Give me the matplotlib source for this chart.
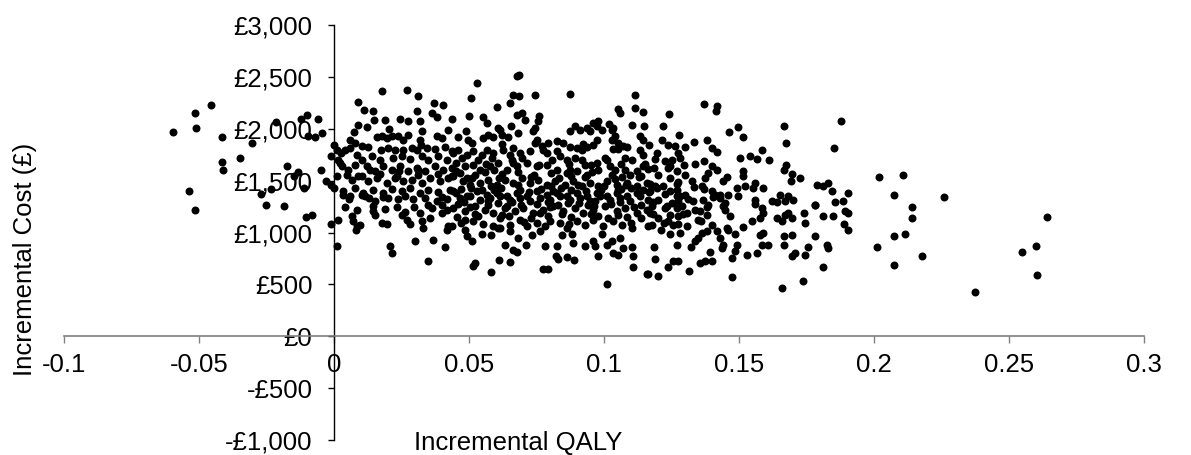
import matplotlib
matplotlib.use("Agg")
import matplotlib.pyplot as plt

plt.rcParams['font.family'] = ['Liberation Sans', 'DejaVu Sans']
plt.rcParams['axes.unicode_minus'] = False

# ---- data: (incremental QALY, incremental cost £) ----
pts_negative = [(-0.0597,1965),(-0.0515,2152),(-0.0511,2011),(-0.0456,2225),(-0.0416,1917),(-0.0305,1866),
    (-0.0347,1715),(-0.0416,1683),(-0.0411,1606),(-0.0537,1401),(-0.0516,1214),(-0.0270,1368),(-0.0233,1423),
    (-0.0253,1269),(-0.0184,1252),(-0.0173,1638),(-0.0134,1587),(-0.0148,1541),(-0.0110,1433),(-0.0105,1150),
    (-0.0083,1172),(-0.0214,2068),(-0.0123,2094),(-0.0101,2129),(-0.0058,2097),(-0.0095,1931),(-0.0070,1917),
    (-0.0046,1956),(-0.0048,1599),(-0.0031,1493),(-0.0011,1461),(-0.0011,1734),(-0.0011,1086),
    (0.0001,1847),(0.0010,1799),(0.0022,1670),(0.0010,1541),(0.0001,1430)]

pts_tail = [(0.1878,2078),(0.2017,1532),(0.2109,1558),(0.1905,1381),(0.2075,1365),(0.2259,1343),(0.1886,1302),
    (0.1893,1211),(0.1905,1189),(0.2140,1247),(0.2140,1141),(0.1889,1083),(0.1903,1025),(0.2115,989),(0.2074,970),
    (0.2010,864),(0.2177,775),(0.2074,688),(0.2373,428),(0.2548,809),(0.2600,871),(0.2604,588),(0.2642,1153)]

pts_low_qaly = [(0.0179,2360),(0.0269,2370),(0.0310,2312),(0.0090,2254),(0.0370,2249),(0.0405,2225),(0.0111,2184),
    (0.0143,2174),(0.0306,2168),(0.0362,2152),(0.0380,2114),(0.0148,2088),(0.0189,2088),(0.0244,2094),(0.0275,2078),
    (0.0319,2071),(0.0090,2040),(0.0121,2013),(0.0205,2001),(0.0421,1991),(0.0074,1965),(0.0325,1975),(0.0380,1927),
    (0.0399,1911),(0.0158,1917),(0.0177,1927),(0.0195,1911),(0.0214,1927),(0.0238,1933),(0.0257,1895),(0.0275,1943),
    (0.0319,1895),(0.0322,1847),(0.0059,1895),(0.0078,1863),(0.0041,1799),(0.0059,1815),(0.0103,1831),(0.0127,1825),
    (0.0174,1799),(0.0201,1815),(0.0226,1792),(0.0257,1799),(0.0288,1815),(0.0306,1799),(0.0343,1815),(0.0374,1805),
    (0.0411,1825),(0.0436,1783),(0.0026,1767),(0.0016,1702),(0.0084,1751),(0.0103,1702),(0.0140,1734),(0.0170,1702),
    (0.0220,1719),(0.0251,1734),(0.0281,1709),(0.0325,1734),(0.0349,1702),(0.0386,1734),(0.0417,1702),(0.0028,1638),
    (0.0053,1606),(0.0078,1654),(0.0121,1638),(0.0152,1590),(0.0183,1638),(0.0214,1606),(0.0244,1638),(0.0275,1590),
    (0.0306,1622),(0.0337,1590),(0.0374,1638),(0.0405,1606),(0.0436,1622),(0.0066,1510),(0.0090,1541),(0.0127,1493),
    (0.0158,1526),(0.0195,1478),(0.0226,1526),(0.0257,1493),(0.0288,1510),(0.0325,1478),(0.0356,1526),(0.0393,1493),
    (0.0423,1526),(0.0034,1397),(0.0078,1430),(0.0109,1381),(0.0146,1413),(0.0183,1381),(0.0214,1420),(0.0251,1397),
    (0.0281,1430),(0.0319,1381),(0.0349,1413),(0.0386,1387),(0.0430,1413),
    (0.0048,1558),(0.0104,1548),(0.0170,1567),(0.0233,1548),(0.0311,1558),(0.0385,1567),(0.0437,1548),
    (0.0056,1327),(0.0130,1336),(0.0237,1327),(0.0337,1336),(0.0419,1327),
    (0.0041,1250),(0.0085,1221),(0.0189,1230),(0.0263,1201),(0.0400,1192),
    (0.0016,1124),(0.0010,874),(0.0066,1156),(0.0071,1115),(0.0084,1060),(0.0096,1069),(0.0081,1028),(0.0146,1204),
    (0.0152,1172),(0.0177,1092),(0.0195,1083),(0.0207,867),(0.0214,803),(0.0232,1243),(0.0201,1333),(0.0251,1166),
    (0.0269,1124),(0.0281,1083),(0.0300,915),(0.0294,1327),(0.0297,1243),(0.0319,1189),(0.0325,1108),(0.0331,1044),
    (0.0347,729),(0.0368,932),(0.0411,861),(0.0417,1028),(0.0423,1060),(0.0356,1141),(0.0362,1237),(0.0380,1301),
    (0.0399,1269),(0.0417,1221),(0.0349,1269),(0.0152,1301),(0.0146,1252),(0.0034,1365),(0.0103,1365),(0.0115,1349)]

pts_mid_qaly = [(0.0677,2512),(0.0686,2521),(0.0528,2441),(0.0506,2297),(0.0662,2329),(0.0686,2312),(0.0652,2249),
    (0.0744,2329),(0.0874,2338),(0.1115,2329),(0.1115,2200),(0.1143,2162),(0.1053,2191),(0.1059,2152),(0.0602,2206),
    (0.0501,2126),(0.0553,2114),(0.0677,2136),(0.0695,2152),(0.0707,2088),(0.0760,2120),(0.0757,2071),(0.0438,2094),
    (0.0566,2056),(0.0609,2008),(0.0615,1991),(0.0656,2023),(0.0683,1960),(0.0744,2008),(0.0738,1975),(0.0489,1975),
    (0.0461,1921),(0.0495,1895),(0.0553,1911),(0.0572,1943),(0.0590,1921),(0.0621,1943),(0.0646,1921),(0.0753,1895),
    (0.0744,1863),(0.0874,1975),(0.0893,2023),(0.0911,1991),(0.0936,2008),(0.0960,2056),(0.0979,2071),(0.0973,2023),
    (0.0948,1975),(0.0991,1991),(0.1020,2049),(0.1035,2008),(0.1028,1985),(0.1103,2040),(0.1148,2030),(0.1133,1927),
    (0.1143,1895),(0.1133,1799),(0.1146,1751),(0.1078,1719),(0.1072,1831),(0.1084,1825),(0.1053,1805),(0.1035,1805),
    (0.1028,1895),(0.1041,1927),(0.1010,1702),(0.1022,1638),(0.0825,1879),(0.0849,1863),(0.0874,1825),(0.0899,1815),
    (0.0917,1799),(0.0936,1825),(0.0960,1847),(0.0973,1895),(0.0689,1767),(0.0726,1783),(0.0769,1831),(0.0775,1792),
    (0.0788,1767),(0.0825,1783),(0.0838,1734),(0.0862,1702),(0.0917,1702),(0.0930,1654),(0.0973,1670),(0.0979,1606),
    (0.1078,1606),(0.1096,1558),(0.1121,1590),(0.1146,1638),(0.0440,1767),(0.0461,1799),(0.0491,1751),(0.0516,1783),
    (0.0547,1751),(0.0566,1799),(0.0590,1767),(0.0627,1799),(0.0652,1751),(0.0664,1815),(0.0453,1670),(0.0484,1638),
    (0.0516,1654),(0.0541,1606),(0.0578,1638),(0.0609,1670),(0.0640,1606),(0.0677,1638),(0.0714,1670),(0.0751,1638),
    (0.0788,1654),(0.0825,1606),(0.0862,1574),(0.0899,1590),(0.0936,1558),(0.0442,1541),(0.0479,1493),(0.0510,1526),
    (0.0541,1478),(0.0572,1510),(0.0602,1462),(0.0633,1510),(0.0664,1478),(0.0695,1526),(0.0726,1478),(0.0757,1510),
    (0.0788,1462),(0.0819,1493),(0.0856,1462),(0.0886,1493),(0.0917,1445),(0.0948,1478),(0.0979,1445),(0.1010,1493),
    (0.1047,1462),(0.1084,1478),(0.1121,1445),(0.1158,1478),(0.0453,1381),(0.0491,1349),(0.0528,1397),(0.0566,1365),
    (0.0602,1381),(0.0640,1349),(0.0677,1381),(0.0714,1349),(0.0751,1397),(0.0788,1365),(0.0825,1381),(0.0862,1349),
    (0.0899,1381),(0.0936,1349),(0.0973,1381),(0.1010,1349),(0.1047,1381),(0.1084,1349),(0.1121,1381),
    (0.0467,1574),(0.0522,1558),(0.0559,1587),(0.0622,1567),(0.0681,1587),(0.0741,1558),(0.0804,1577),(0.0878,1548),
    (0.0956,1587),(0.1030,1558),(0.1067,1538),(0.1137,1548),(0.0470,1423),(0.0507,1433),(0.0548,1413),(0.0619,1433),
    (0.0689,1413),(0.0767,1423),(0.0841,1433),(0.0878,1413),(0.0989,1413),(0.1063,1423),(0.1100,1433),(0.1144,1413),
    (0.0474,1721),(0.0533,1702),(0.0585,1721),(0.0659,1702),(0.0696,1721),(0.0807,1702),(0.0893,1721),(0.1004,1721),
    (0.1104,1702)]

pts_mid_low_cost = [(0.0467,1333),(0.0504,1349),(0.0541,1317),(0.0578,1333),(0.0615,1349),(0.0652,1317),(0.0689,1333),
    (0.0726,1301),(0.0763,1333),(0.0800,1317),(0.0837,1349),(0.0874,1317),(0.0911,1333),(0.0948,1301),(0.0985,1349),
    (0.1022,1317),(0.1059,1333),(0.1096,1301),(0.1133,1349),(0.1164,1317),(0.0442,1237),(0.0485,1204),(0.0522,1252),
    (0.0559,1221),(0.0590,1189),(0.0633,1237),(0.0670,1204),(0.0701,1237),(0.0738,1189),(0.0775,1221),(0.0812,1252),
    (0.0849,1204),(0.0893,1237),(0.0923,1189),(0.0960,1221),(0.1004,1252),(0.1047,1204),(0.1078,1237),(0.1121,1189),
    (0.1158,1221),(0.0485,1124),(0.0516,1115),(0.0553,1083),(0.0590,1060),(0.0615,1044),(0.0652,1076),(0.0689,1124),
    (0.0714,1060),(0.0751,1092),(0.0781,1060),(0.0800,1115),(0.0837,1092),(0.0862,1044),(0.0899,1108),(0.0930,1076),
    (0.0960,1124),(0.0997,1060),(0.1035,1108),(0.1066,1076),(0.1103,1044),(0.0436,1060),(0.0485,1028),(0.0491,963),
    (0.0510,915),(0.0547,987),(0.0583,973),(0.0609,1044),(0.0633,884),(0.0664,835),(0.0677,813),(0.0711,884),
    (0.0652,1012),(0.0683,948),(0.0732,973),(0.0763,1012),(0.0781,867),(0.0825,874),(0.0822,771),(0.0830,749),
    (0.0864,768),(0.0889,739),(0.0843,980),(0.0880,987),(0.0886,900),(0.0930,867),(0.0960,915),(0.0967,867),
    (0.0991,987),(0.0979,771),(0.1010,877),(0.1031,915),(0.1059,948),(0.1035,803),(0.1053,780),(0.1072,852),
    (0.1103,857),(0.1109,777),(0.1106,665),(0.1158,604),(0.1010,508),(0.0775,652),(0.0794,652),(0.0652,713),
    (0.0611,732),(0.0580,617),(0.0514,674),(0.0522,707),
    (0.0459,1278),(0.0570,1269),(0.0607,1288),(0.0693,1269),(0.0752,1278),(0.0830,1269),(0.0867,1288),(0.0941,1269),
    (0.1026,1278),(0.1137,1269),(0.0456,1153),(0.0533,1163),(0.0615,1143),(0.0648,1163),(0.0730,1143),(0.0793,1163),
    (0.0878,1153),(0.0978,1163),(0.1015,1143),(0.1085,1153),(0.1137,1143)]

pts_core_dense = [(0.0480,1295),(0.0572,1302),(0.0661,1290),(0.0793,1298),(0.0906,1286),(0.0968,1301),(0.1060,1292),
    (0.1180,1297),(0.1251,1288),(0.1330,1299),(0.0502,1455),(0.0583,1448),(0.0681,1460),(0.0802,1451),(0.0903,1462),
    (0.1001,1449),(0.1082,1457),(0.1190,1450),(0.1271,1463),(0.1362,1452),(0.0493,1530),(0.0612,1522),(0.0731,1535),
    (0.0832,1527),(0.0931,1533),(0.1042,1519),(0.1131,1531),(0.1243,1524),(0.0563,1660),(0.0662,1668),(0.0761,1655),
    (0.0871,1663),(0.0952,1651),(0.1063,1665),(0.1152,1657),(0.0522,1180),(0.0621,1172),(0.0762,1186),(0.0843,1175),
    (0.0951,1183),(0.1052,1170),(0.1183,1181),(0.1292,1176),(0.0441,1400),(0.0592,1406),(0.0722,1395),(0.0811,1404),
    (0.0932,1398),(0.1051,1407),(0.1172,1396),(0.1243,1403),(0.1401,1399),(0.0503,1250),(0.0642,1257),(0.0801,1246),
    (0.0962,1255),(0.1112,1248),(0.1232,1256),(0.1381,1244),(0.0471,1090),(0.0703,1097),(0.0872,1086),(0.1101,1094),
    (0.1222,1088),(0.0133,1600),(0.0242,1593),(0.0312,1607),(0.0452,1596),(0.0591,1604),(0.0873,1598),(0.1042,1605),
    (0.1272,1597),(0.0061,1350),(0.0183,1343),(0.0262,1355),(0.0401,1346),(0.1271,1352),(0.1402,1344),(0.0512,1860),
    (0.0623,1853),(0.0792,1866),(0.0921,1857),(0.1053,1862)]

pts_high_qaly = [(0.1372,2242),(0.1417,2222),(0.1415,2168),(0.1241,2145),(0.1220,2023),(0.1278,1936),(0.1464,1969),
    (0.1498,2013),(0.1516,1917),(0.1668,2023),(0.1673,1863),(0.1853,1815),(0.1332,1873),(0.1380,1888),(0.1216,1895),
    (0.1238,1847),(0.1263,1830),(0.1167,1847),(0.1300,1825),(0.1195,1767),(0.1189,1709),(0.1275,1767),(0.1281,1719),
    (0.1399,1815),(0.1417,1776),(0.1504,1719),(0.1541,1734),(0.1566,1712),(0.1584,1792),(0.1611,1702),(0.1226,1686),
    (0.1251,1702),(0.1164,1616),(0.1186,1622),(0.1244,1644),(0.1238,1622),(0.1297,1651),(0.1337,1664),(0.1372,1686),
    (0.1399,1644),(0.1417,1606),(0.1386,1574),(0.1374,1526),(0.1516,1590),(0.1514,1541),(0.1668,1606),(0.1674,1651),
    (0.1695,1567),(0.1726,1529),(0.1693,1493),(0.1454,1532),(0.1442,1493),(0.1300,1551),(0.1334,1435),(0.1325,1493),
    (0.1491,1430),(0.1522,1445),(0.1553,1430),(0.1559,1478),(0.1590,1430),(0.1372,1420),(0.1788,1462),(0.1812,1445),
    (0.1829,1478),(0.1843,1397),(0.1652,1365),(0.1683,1349),(0.1170,1471),(0.1167,1387),(0.1195,1430),(0.1220,1452),
    (0.1226,1375),(0.1275,1484),(0.1269,1413),(0.1300,1365),(0.1281,1349),(0.1201,1558),(0.1411,1365),(0.1430,1365),
    (0.1460,1365)]

pts_high_qaly_low_cost = [(0.1201,1317),(0.1275,1301),(0.1312,1327),(0.1368,1317),(0.1498,1349),(0.1559,1317),
    (0.1621,1301),(0.1640,1295),(0.1670,1301),(0.1701,1317),(0.1781,1269),(0.1856,1295),(0.1177,1252),(0.1170,1189),
    (0.1201,1141),(0.1177,1076),(0.1164,1060),(0.1226,1237),(0.1244,1172),(0.1269,1237),(0.1288,1252),(0.1306,1189),
    (0.1337,1221),(0.1356,1204),(0.1380,1172),(0.1238,1108),(0.1275,1156),(0.1442,1252),(0.1448,1221),(0.1467,1156),
    (0.1559,1276),(0.1584,1237),(0.1590,1189),(0.1578,1141),(0.1547,1115),(0.1516,1050),(0.1485,987),(0.1491,884),
    (0.1454,1044),(0.1460,1028),(0.1399,1076),(0.1417,1012),(0.1430,948),(0.1380,1018),(0.1364,996),(0.1349,948),
    (0.1337,915),(0.1442,884),(0.1436,852),(0.1393,813),(0.1399,729),(0.1374,723),(0.1356,707),(0.1322,857),
    (0.1306,1060),(0.1273,1083),(0.1257,1069),(0.1281,996),(0.1244,987),(0.1210,1028),(0.1269,877),(0.1189,749),
    (0.1185,857),(0.1275,729),(0.1257,723),(0.1238,665),(0.1201,578),(0.1162,601),(0.1316,633),(0.1475,575),
    (0.1475,755),(0.1485,819),(0.1531,787),(0.1566,803),(0.1584,884),(0.1609,884),(0.1578,980),(0.1590,996),
    (0.1640,1141),(0.1658,1108),(0.1670,1172),(0.1695,1141),(0.1683,1189),(0.1668,963),(0.1695,973),(0.1668,877),
    (0.1695,771),(0.1707,803),(0.1658,466),(0.1738,530),(0.1754,857),(0.1744,780),(0.1742,1189),(0.1744,1092),
    (0.1781,1262),(0.1812,1156),(0.1781,963),(0.1825,884),(0.1829,852),(0.1812,669),(0.1849,1156),(0.1349,1124),
    (0.1360,1108),(0.1386,1269),(0.1430,1333),(0.1448,1285)]

x_ticks = [-0.1, -0.05, 0, 0.05, 0.1, 0.15, 0.2, 0.25, 0.3]
x_tick_labels = ["-0.1", "-0.05", "0", "0.05", "0.1", "0.15", "0.2", "0.25", "0.3"]
y_ticks = [-1000, -500, 0, 500, 1000, 1500, 2000, 2500, 3000]
y_tick_labels = ["-£1,000", "-£500", "£0", "£500", "£1,000", "£1,500", "£2,000", "£2,500", "£3,000"]

groups = [pts_negative, pts_tail, pts_low_qaly, pts_mid_qaly, pts_mid_low_cost, pts_core_dense,
          pts_high_qaly, pts_high_qaly_low_cost]
qaly = [p[0] for g in groups for p in g]
cost = [p[1] for g in groups for p in g]

FS = 18.5
fig = plt.figure(figsize=(11.91, 4.55), dpi=100)
ax = fig.add_axes([64/1191, 1 - 440/455, 1080/1191, 415/455])
ax.scatter(qaly, cost, s=33, c='black', linewidths=0, zorder=3, clip_on=False)

ax.set_xlim(-0.1, 0.3)
ax.set_ylim(-1000, 3000)
ax.spines['top'].set_visible(False)
ax.spines['right'].set_visible(False)
ax.spines['left'].set_position(('data', 0))
ax.spines['bottom'].set_position(('data', 0))
ax.spines['bottom'].set_color('#808080')
ax.spines['bottom'].set_linewidth(1.2)
ax.spines['left'].set_color('black')
ax.spines['left'].set_linewidth(1.0)

ax.set_xticks(x_ticks)
ax.set_xticklabels(x_tick_labels, fontsize=FS)
ax.set_yticks(y_ticks)
ax.set_yticklabels(y_tick_labels, fontsize=FS)
ax.tick_params(axis='x', direction='out', length=5, width=1.0, color='#808080', pad=7)
ax.tick_params(axis='y', direction='out', length=4.5, width=1.0, color='black', pad=11)

fig.text(518/1191, 1 - 443/455, "Incremental QALY", fontsize=FS, ha='center', va='center')
fig.text(25/1191, 1 - 259/455, "Incremental Cost (£)", fontsize=FS, ha='center', va='center', rotation=90)

fig.savefig("out.png", dpi=100)
